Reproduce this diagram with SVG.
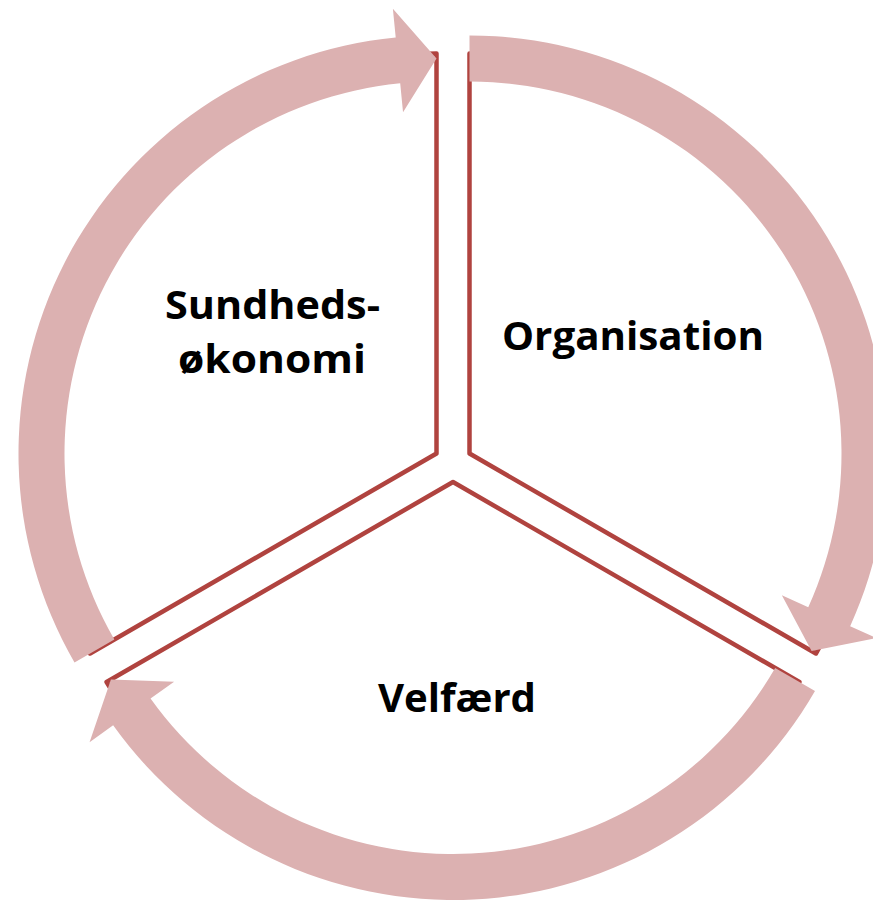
<svg xmlns="http://www.w3.org/2000/svg" width="873" height="901" viewBox="0 0 873 901">
  <style>
    .sector { fill: #ffffff; stroke: #b0433f; stroke-width: 4.5; stroke-linejoin: round; }
    .band { fill: #dcb1b1; stroke: none; }
    .label { font-family: "Open Sans", "Lato", "Liberation Sans", sans-serif; font-weight: bold; font-size: 39px; fill: #000000; text-anchor: middle; }
  </style>
  <rect width="873" height="901" fill="#ffffff"/>
  <g id="node-sundhedsokonomi">
    <path class="sector" d="M 436.5,453.5 L 90.09,653.5 A 400 400 0 0 1 436.5,53.5 Z"/>
    <text class="label" x="272.5" y="319" textLength="215" lengthAdjust="spacingAndGlyphs">Sundheds-</text>
    <text class="label" x="272" y="373" textLength="188" lengthAdjust="spacingAndGlyphs">økonomi</text>
  </g>
  <g id="node-organisation">
    <path class="sector" d="M 469.5,453.5 L 469.5,53.5 A 400 400 0 0 1 815.91,653.5 Z"/>
    <text class="label" x="633" y="350" textLength="262" lengthAdjust="spacingAndGlyphs">Organisation</text>
  </g>
  <g id="node-velfaerd">
    <path class="sector" d="M 453,482 L 799.41,682 A 400 400 0 0 1 106.59,682 Z"/>
    <text class="label" x="457" y="712" textLength="158" lengthAdjust="spacingAndGlyphs">Velfærd</text>
  </g>
  <g id="connectors">
    <path class="band" d="M 74.5,662.5 A 418 418 0 0 1 395.71,37.49 L 392.88,8.63 L 436.5,58.5 L 403.03,112.14 L 400.2,83.27 A 372 372 0 0 0 114.34,639.5 Z"/>
    <path class="band" d="M 469.5,35.5 A 418 418 0 0 1 850.16,626.18 L 876.57,638.16 L 811.58,651 L 781.86,595.19 L 808.27,607.17 A 372 372 0 0 0 469.5,81.5 Z"/>
    <path class="band" d="M 815,691 A 418 418 0 0 1 113.14,725.33 L 89.56,742.21 L 110.92,679.5 L 174.12,681.67 L 150.54,698.55 A 372 372 0 0 0 775.16,668 Z"/>
  </g>
</svg>
